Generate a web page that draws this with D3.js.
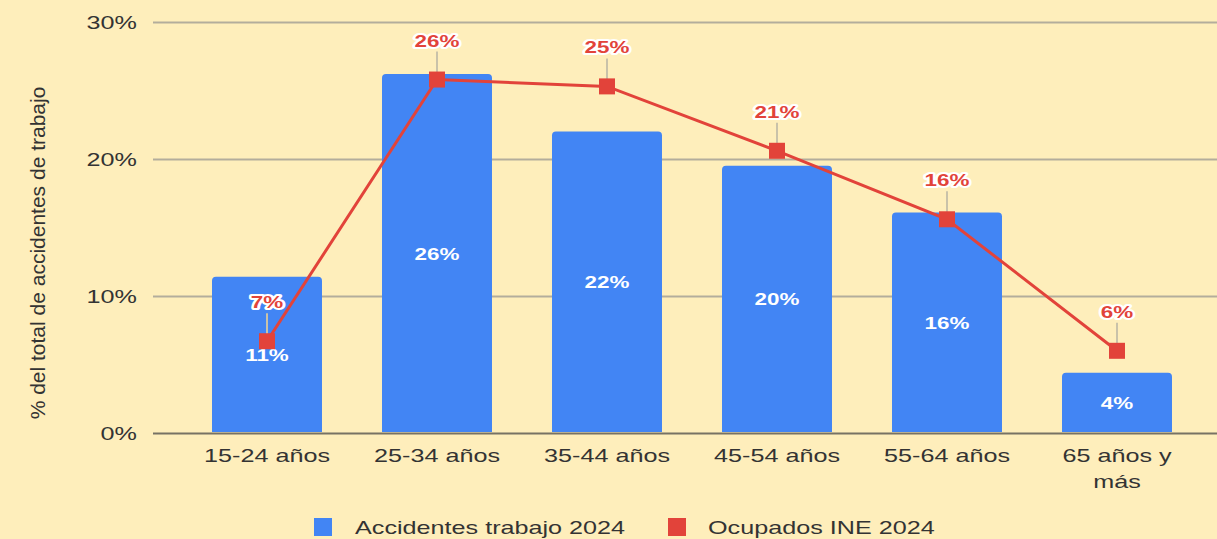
<!DOCTYPE html>
<html>
<head>
<meta charset="utf-8">
<script src="https://cdn.jsdelivr.net/npm/d3@7"></script>
<style>
  html, body { margin: 0; padding: 0; background: #feeebb; }
  svg { display: block; font-family: "Liberation Sans", Arial, sans-serif; }
</style>
</head>
<body>
<script>
// datos
const categorias = ["15-24 años", "25-34 años", "35-44 años", "45-54 años", "55-64 años", "65 años y más"];
const accidentes = [11.4, 26.2, 22.0, 19.5, 16.1, 4.4];
const ocupados = [6.7, 25.8, 25.3, 20.6, 15.6, 6.0];
const yTicks = [0, 10, 20, 30];
const series = ["Accidentes trabajo 2024", "Ocupados INE 2024"];
const yTitulo = "% del total de accidentes de trabajo";

const W = 1217, H = 539;
const azul = "#4285f4", rojo = "#e2433a";
const sx = 1.4; // el texto del original esta estirado en horizontal

const svg = d3.select("body").append("svg").attr("width", W).attr("height", H);
svg.append("rect").attr("width", W).attr("height", H).attr("fill", "#feeebb");

const x = d3.scaleBand().domain(categorias).range([182, 1202]).paddingInner(0.353).paddingOuter(0.1765);
const y = d3.scaleLinear().domain([0, 30]).range([433, 22]);

// texto estirado
function txt(g, px, py, s, opts) {
  const t = g.append("text")
    .attr("transform", `translate(${px},${py}) scale(${sx},1)`)
    .attr("text-anchor", opts.anchor || "middle")
    .attr("font-size", opts.size || 18)
    .attr("font-weight", opts.weight || "normal")
    .attr("fill", opts.fill || "#333")
    .text(s);
  return t;
}

// eje y + rejilla
const yAxis = svg.append("g").attr("transform", "translate(153,0)")
  .call(d3.axisLeft(y).tickValues(yTicks).tickSize(-(W - 153)).tickFormat(d => d + "%"));
yAxis.select(".domain").remove();
yAxis.selectAll(".tick line")
  .attr("stroke", d => d === 0 ? "#777264" : "#b3ad9c")
  .attr("stroke-width", 2);
yAxis.selectAll(".tick text")
  .attr("x", null).attr("dy", null)
  .attr("transform", `translate(-16,6) scale(${sx},1)`)
  .attr("font-size", 18).attr("fill", "#333")
  .attr("font-family", "Liberation Sans, Arial, sans-serif");

// titulo eje y
svg.append("text")
  .attr("transform", "translate(45,253) rotate(-90)")
  .attr("text-anchor", "middle")
  .attr("font-size", 21).attr("fill", "#333")
  .text(yTitulo);

// barras con esquinas superiores redondeadas
const rr = 4;
svg.append("g").selectAll("path").data(accidentes).join("path")
  .attr("fill", azul)
  .attr("d", (d, i) => {
    const x0 = x(categorias[i]), x1 = x0 + x.bandwidth();
    const y0 = y(0) - 1, y1 = y(d);
    return `M${x0},${y0}V${y1 + rr}Q${x0},${y1} ${x0 + rr},${y1}H${x1 - rr}Q${x1},${y1} ${x1},${y1 + rr}V${y0}Z`;
  });

// etiquetas barras
const gBarLab = svg.append("g");
accidentes.forEach((d, i) => {
  const cx = x(categorias[i]) + x.bandwidth() / 2;
  const cy = (y(d) + y(0)) / 2;
  txt(gBarLab, cx, cy + 6, Math.round(d) + "%", { size: 16, weight: "bold", fill: "#fff" });
});

// linea ocupados
const cxs = categorias.map(c => x(c) + x.bandwidth() / 2);
const line = d3.line().x((d, i) => cxs[i]).y(d => y(d));

// lineas guia de etiquetas
svg.append("g").selectAll("line").data(ocupados).join("line")
  .attr("x1", (d, i) => cxs[i]).attr("x2", (d, i) => cxs[i])
  .attr("y1", d => y(d)).attr("y2", d => y(d) - 28)
  .attr("stroke", "#c9c2a9").attr("stroke-width", 2);

svg.append("path").datum(ocupados)
  .attr("d", line).attr("fill", "none")
  .attr("stroke", rojo).attr("stroke-width", 3);

svg.append("g").selectAll("rect").data(ocupados).join("rect")
  .attr("x", (d, i) => cxs[i] - 8).attr("y", d => y(d) - 8)
  .attr("width", 16).attr("height", 16)
  .attr("fill", rojo);

const gLineLab = svg.append("g");
ocupados.forEach((d, i) => {
  txt(gLineLab, cxs[i], y(d) - 33, Math.round(d) + "%", { size: 16, weight: "bold", fill: rojo })
    .attr("stroke", "#fff").attr("stroke-width", 4)
    .attr("stroke-linejoin", "round").attr("paint-order", "stroke");
});

// etiquetas eje x (con salto de linea)
const gX = svg.append("g");
categorias.forEach(c => {
  const cx = x(c) + x.bandwidth() / 2;
  let lineas = [c];
  if (c.length > 11) {
    const w = c.split(" ");
    lineas = [w.slice(0, -1).join(" "), w[w.length - 1]];
  }
  lineas.forEach((l, k) => txt(gX, cx, 462 + k * 26, l, { size: 18, fill: "#333" }));
});

// leyenda
const leg = svg.append("g");
leg.append("rect").attr("x", 314).attr("y", 518).attr("width", 18).attr("height", 18).attr("fill", azul);
txt(leg, 355, 534, series[0], { size: 18, anchor: "start", fill: "#333" });
leg.append("rect").attr("x", 668).attr("y", 518).attr("width", 18).attr("height", 18).attr("fill", rojo);
txt(leg, 708, 534, series[1], { size: 18, anchor: "start", fill: "#333" });
</script>
</body>
</html>
